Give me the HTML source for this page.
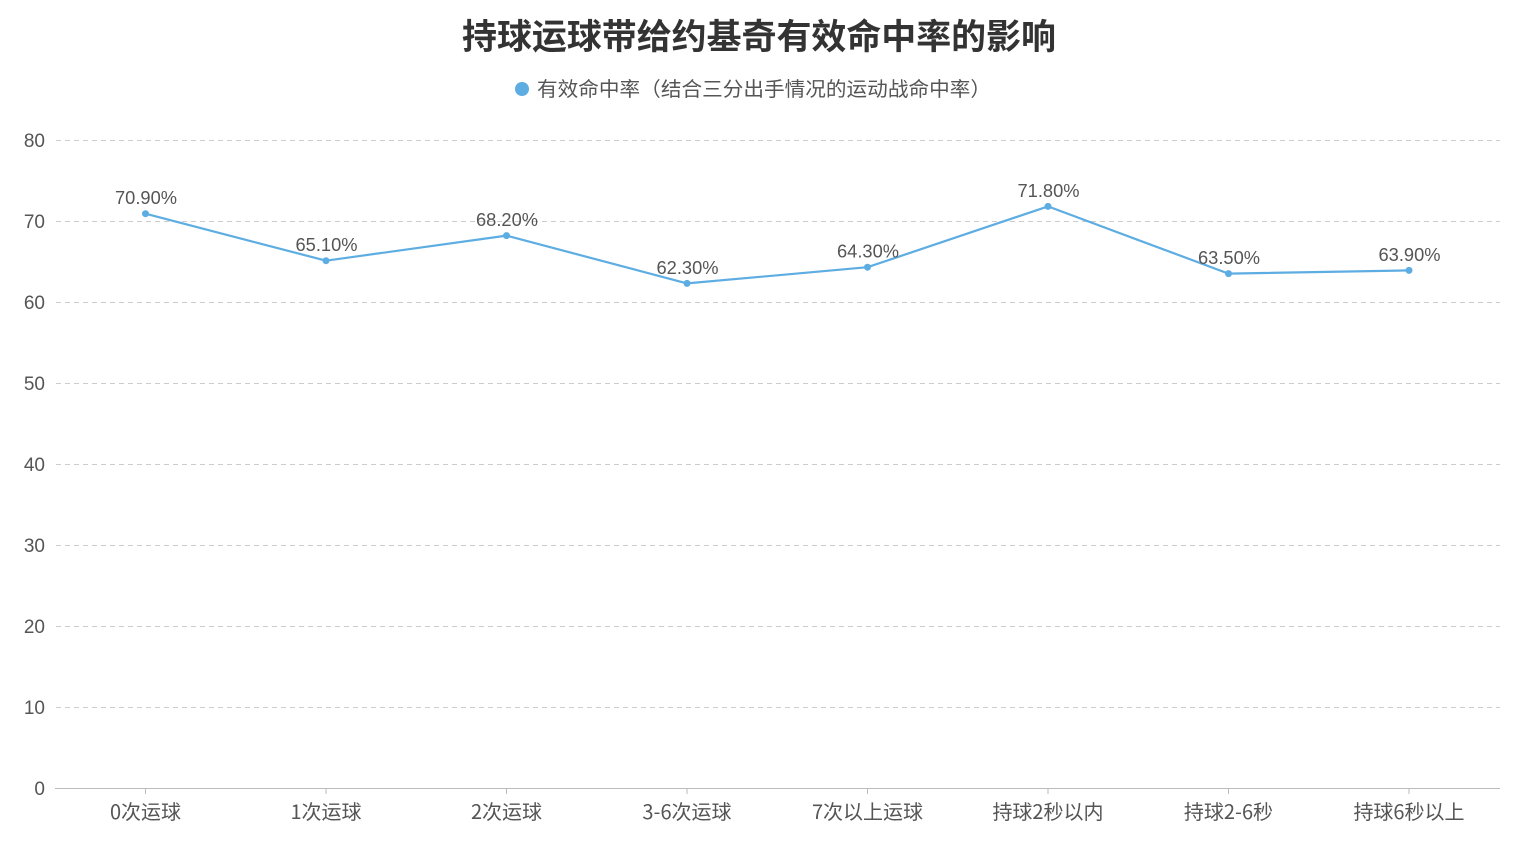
<!DOCTYPE html>
<html>
<head>
<meta charset="utf-8">
<style>
html,body{margin:0;padding:0;background:#fff;}
svg{display:block;}
text{font-family:"Liberation Sans","Noto Sans CJK SC",sans-serif;}
.cjk{font-family:"Noto Sans CJK SC","Liberation Sans",sans-serif;}
</style>
</head>
<body>
<svg width="1516" height="853" viewBox="0 0 1516 853" xmlns="http://www.w3.org/2000/svg">
  <rect width="1516" height="853" fill="#fff"/>
  <!-- Title -->
  <text class="cjk" x="759" y="49" text-anchor="middle" font-size="35" font-weight="bold" fill="#333" textLength="594" lengthAdjust="spacingAndGlyphs">持球运球带给约基奇有效命中率的影响</text>
  <!-- Legend -->
  <circle cx="522" cy="89" r="7" fill="#5DADE2"/>
  <text class="cjk" x="537" y="96" font-size="20" fill="#555" textLength="454" lengthAdjust="spacingAndGlyphs">有效命中率（结合三分出手情况的运动战命中率）</text>

  <!-- Grid lines -->
  <g stroke="#ccc" stroke-width="1" stroke-dasharray="5,4">
    <line x1="56" y1="140.5" x2="1500" y2="140.5"/>
    <line x1="56" y1="221.5" x2="1500" y2="221.5"/>
    <line x1="56" y1="302.5" x2="1500" y2="302.5"/>
    <line x1="56" y1="383.5" x2="1500" y2="383.5"/>
    <line x1="56" y1="464.5" x2="1500" y2="464.5"/>
    <line x1="56" y1="545.5" x2="1500" y2="545.5"/>
    <line x1="56" y1="626.5" x2="1500" y2="626.5"/>
    <line x1="56" y1="707.5" x2="1500" y2="707.5"/>
  </g>
  <!-- x axis -->
  <line x1="55" y1="788.5" x2="1500" y2="788.5" stroke="#bbb" stroke-width="1"/>
  <g stroke="#bbb" stroke-width="1">
    <line x1="145.5" y1="788" x2="145.5" y2="794"/>
    <line x1="326" y1="788" x2="326" y2="794"/>
    <line x1="506.5" y1="788" x2="506.5" y2="794"/>
    <line x1="687" y1="788" x2="687" y2="794"/>
    <line x1="867.5" y1="788" x2="867.5" y2="794"/>
    <line x1="1048" y1="788" x2="1048" y2="794"/>
    <line x1="1228.5" y1="788" x2="1228.5" y2="794"/>
    <line x1="1409" y1="788" x2="1409" y2="794"/>
  </g>

  <!-- y labels -->
  <g font-size="19" fill="#555" text-anchor="end">
    <text x="45" y="147">80</text>
    <text x="45" y="228">70</text>
    <text x="45" y="309">60</text>
    <text x="45" y="390">50</text>
    <text x="45" y="471">40</text>
    <text x="45" y="552">30</text>
    <text x="45" y="633">20</text>
    <text x="45" y="714">10</text>
    <text x="45" y="795">0</text>
  </g>

  <!-- x labels -->
  <g class="cjk" font-size="20" fill="#555" text-anchor="middle">
    <text class="cjk" x="145.5" y="819">0次运球</text>
    <text class="cjk" x="326" y="819">1次运球</text>
    <text class="cjk" x="506.5" y="819">2次运球</text>
    <text class="cjk" x="687" y="819">3-6次运球</text>
    <text class="cjk" x="867.5" y="819">7次以上运球</text>
    <text class="cjk" x="1048" y="819">持球2秒以内</text>
    <text class="cjk" x="1228.5" y="819">持球2-6秒</text>
    <text class="cjk" x="1409" y="819">持球6秒以上</text>
  </g>

  <!-- Series line -->
  <polyline fill="none" stroke="#5DADE2" stroke-width="2.2" stroke-linejoin="round"
    points="145.5,213.7 326,260.7 506.5,235.6 687,283.4 867.5,267.2 1048,206.4 1228.5,273.6 1409,270.4"/>
  <g fill="#5DADE2">
    <circle cx="145.5" cy="213.7" r="3.5"/>
    <circle cx="326" cy="260.7" r="3.5"/>
    <circle cx="506.5" cy="235.6" r="3.5"/>
    <circle cx="687" cy="283.4" r="3.5"/>
    <circle cx="867.5" cy="267.2" r="3.5"/>
    <circle cx="1048" cy="206.4" r="3.5"/>
    <circle cx="1228.5" cy="273.6" r="3.5"/>
    <circle cx="1409" cy="270.4" r="3.5"/>
  </g>

  <!-- data labels -->
  <g font-size="18" fill="#555" text-anchor="middle">
    <text x="146" y="204" textLength="62" lengthAdjust="spacingAndGlyphs">70.90%</text>
    <text x="326.5" y="251" textLength="62" lengthAdjust="spacingAndGlyphs">65.10%</text>
    <text x="507" y="226" textLength="62" lengthAdjust="spacingAndGlyphs">68.20%</text>
    <text x="687.5" y="274" textLength="62" lengthAdjust="spacingAndGlyphs">62.30%</text>
    <text x="868" y="257.5" textLength="62" lengthAdjust="spacingAndGlyphs">64.30%</text>
    <text x="1048.5" y="197" textLength="62" lengthAdjust="spacingAndGlyphs">71.80%</text>
    <text x="1229" y="264" textLength="62" lengthAdjust="spacingAndGlyphs">63.50%</text>
    <text x="1409.5" y="261" textLength="62" lengthAdjust="spacingAndGlyphs">63.90%</text>
  </g>
</svg>
</body>
</html>
